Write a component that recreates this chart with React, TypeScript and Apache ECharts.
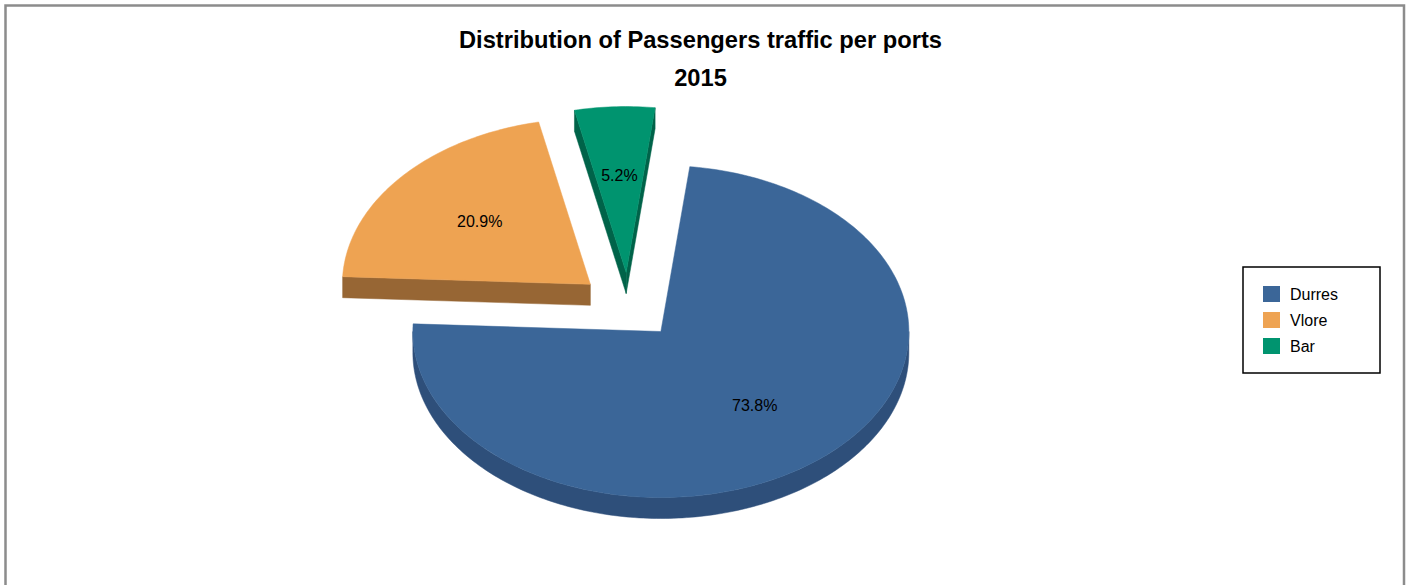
import React, { useEffect, useRef } from "react";
import * as echarts from "echarts";

// ---- data ----
const categories = ["Durres", "Vlore", "Bar"];
const shares = [73.8, 20.9, 5.2];
const topColors = ["#3B6698", "#EEA352", "#00946F"];
const sideColors = ["#2E4F7A", "#976634", "#006349"];
const titleLines = ["Distribution of Passengers traffic per ports", "2015"];

// ---- layout ----
const CX = 628.5;
const CY = 306;
const RX = 248;
const RY = 166;
const DEPTH = 21;
const EXPLODE = 50;
const START_ANGLE = 6.7; // degrees clockwise from 12 o'clock
const LABEL_R = 0.585;
const FONT = "'Liberation Sans', Arial, Helvetica, sans-serif";

const rad = (d: number) => (d * Math.PI) / 180;

function pt(ox: number, oy: number, a: number, f = 1, dy = 0): number[] {
  return [ox + f * RX * Math.sin(rad(a)), oy - f * RY * Math.cos(rad(a)) + dy];
}

function arcPts(ox: number, oy: number, from: number, to: number, dy = 0): number[][] {
  const n = Math.max(2, Math.ceil(Math.abs(to - from)));
  const res: number[][] = [];
  for (let k = 0; k <= n; k++) res.push(pt(ox, oy, from + ((to - from) * k) / n, 1, dy));
  return res;
}

function sliceAngles(i: number) {
  const total = shares.reduce((a, b) => a + b, 0);
  let cum = 0;
  for (let j = 0; j < i; j++) cum += shares[j];
  const a0 = START_ANGLE + (360 * cum) / total;
  const a1 = a0 + (360 * shares[i]) / total;
  return { a0, a1, mid: (a0 + a1) / 2 };
}

const renderItem = (params: any, api: any) => {
  const i = api.value(0) as number;
  const { a0, a1, mid } = sliceAngles(i);
  const ox = CX + EXPLODE * Math.sin(rad(mid));
  const oy = CY - EXPLODE * (RY / RX) * Math.cos(rad(mid));
  const side = sideColors[i];
  const top = topColors[i];
  const children: any[] = [];

  // curved front wall(s)
  const fronts = [
    [90, 270],
    [450, 630],
  ];
  for (const [f0, f1] of fronts) {
    const lo = Math.max(a0, f0);
    const hi = Math.min(a1, f1);
    if (lo < hi) {
      const upper = arcPts(ox, oy, lo, hi, 0);
      const lower = arcPts(ox, oy, hi, lo, DEPTH);
      children.push({
        type: "polygon",
        shape: { points: upper.concat(lower) },
        style: { fill: side, stroke: side, lineWidth: 0.5 },
      });
    }
  }
  // radial walls
  if (Math.sin(rad(a0)) < 0) {
    const p = pt(ox, oy, a0);
    children.push({
      type: "polygon",
      shape: { points: [[ox, oy], p, [p[0], p[1] + DEPTH], [ox, oy + DEPTH]] },
      style: { fill: side, stroke: side, lineWidth: 0.5 },
    });
  }
  if (Math.sin(rad(a1)) > 0) {
    const p = pt(ox, oy, a1);
    children.push({
      type: "polygon",
      shape: { points: [[ox, oy], p, [p[0], p[1] + DEPTH], [ox, oy + DEPTH]] },
      style: { fill: side, stroke: side, lineWidth: 0.5 },
    });
  }
  // top face
  children.push({
    type: "polygon",
    shape: { points: [[ox, oy]].concat(arcPts(ox, oy, a0, a1, 0)) },
    style: { fill: top, stroke: top, lineWidth: 0.5 },
  });
  // label
  const lp = pt(ox, oy, mid, LABEL_R);
  children.push({
    type: "text",
    x: lp[0],
    y: lp[1],
    style: {
      text: shares[i].toFixed(1) + "%",
      fill: "#000",
      font: `16px ${FONT}`,
      align: "center",
      verticalAlign: "middle",
    },
  });
  return { type: "group", children };
};

export default function App() {
  const ref = useRef<HTMLDivElement>(null);
  useEffect(() => {
    if (!ref.current) return;
    const chart = echarts.init(ref.current, undefined, { renderer: "svg" });
    chart.setOption({
      animation: false,
      backgroundColor: "#fff",
      title: {
        text: titleLines.join("\n"),
        left: 695.5,
        textAlign: "center",
        top: 16,
        textStyle: {
          fontFamily: FONT,
          fontSize: 23.7,
          fontWeight: "bold",
          color: "#000",
          lineHeight: 38,
        },
      },
      legend: {
        data: categories,
        orient: "vertical",
        left: 1243,
        top: 267,
        icon: "rect",
        itemWidth: 17,
        itemHeight: 16,
        itemGap: 10,
        padding: [19, 42, 19, 20],
        borderColor: "#000",
        borderWidth: 1.5,
        borderRadius: 0,
        textStyle: { fontFamily: FONT, fontSize: 16, color: "#000", padding: [0, 0, 0, 5] },
      },
      graphic: [
        {
          type: "rect",
          shape: { x: 5.5, y: 5.5, width: 1398.5, height: 640 },
          style: { fill: "none", stroke: "#8c8c8c", lineWidth: 2.5 },
          silent: true,
          z: 0,
        },
      ],
      series: categories.map((name, i) => ({
        type: "custom",
        name,
        coordinateSystem: "none",
        data: [[i]],
        itemStyle: { color: topColors[i] },
        renderItem,
        silent: true,
      })),
    });
    return () => chart.dispose();
  }, []);
  return (
    <div
      ref={ref}
      style={{ position: "absolute", left: 0, top: 0, width: 1411, height: 585 }}
    />
  );
}
